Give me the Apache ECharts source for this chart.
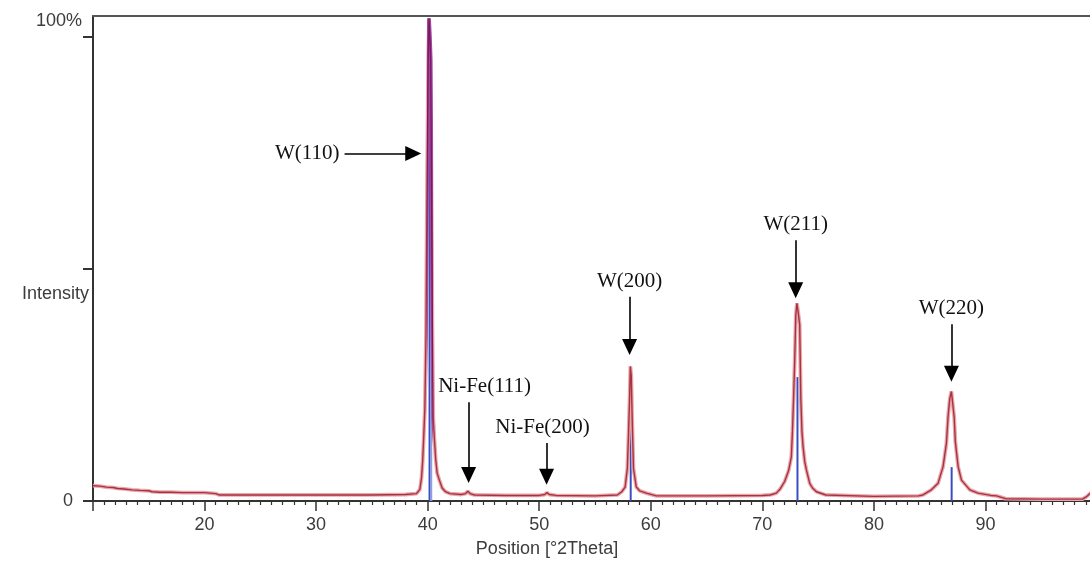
<!DOCTYPE html>
<html>
<head>
<meta charset="utf-8">
<title>XRD pattern</title>
<script src="https://cdn.jsdelivr.net/npm/echarts@6.0.0/dist/echarts.min.js"></script>
<style>
  html, body { margin: 0; padding: 0; background: #fff; }
  #chart { width: 1090px; height: 564px; }
</style>
</head>
<body>
<div id="chart"></div>
<script>
const twoTheta = [
  10.0, 10.6, 11.2, 11.8, 12.2, 12.8, 13.5, 14.2, 15.0, 15.3, 16.0, 17.0, 18.0, 19.0, 20.0,
  21.0, 21.1, 21.3, 22.0, 25.0, 30.0, 35.0, 38.0, 39.0, 39.3, 39.45, 39.55, 39.65, 39.75,
  39.85, 39.95, 40.05, 40.12, 40.2, 40.27, 40.34, 40.42, 40.5, 40.6, 40.72, 40.85, 41.05,
  41.3, 41.6, 42.0, 43.0, 43.4, 43.6, 43.8, 44.2, 47.0, 50.0, 50.5, 50.7, 50.9, 51.5, 55.0,
  57.0, 57.4, 57.7, 57.9, 58.0, 58.1, 58.17, 58.25, 58.33, 58.45, 58.7, 59.0, 59.6, 60.5,
  65.0, 70.0, 70.7, 71.25, 71.6, 72.0, 72.35, 72.6, 72.7, 72.8, 72.9, 73.0, 73.1, 73.25,
  73.35, 73.45, 73.55, 73.65, 73.8, 73.95, 74.25, 74.5, 74.85, 75.7, 80.0, 84.0, 84.4,
  85.15, 85.75, 86.2, 86.5, 86.65, 86.8, 86.95, 87.1, 87.2, 87.3, 87.55, 87.85, 88.6,
  89.33, 90.5, 91.0, 91.8, 95.0, 98.7, 99.1, 99.5
];
const intensity = [
  3.3, 3.2, 3.0, 2.9, 2.7, 2.6, 2.4, 2.3, 2.2, 2.0, 1.9, 1.9, 1.8, 1.8, 1.8,
  1.6, 1.8, 1.3, 1.3, 1.3, 1.3, 1.3, 1.4, 1.6, 2.5, 5, 8.5, 14, 20,
  36, 70, 96, 104, 100, 95, 70, 38, 18, 13.5, 9, 6, 4.5,
  2.8, 2.0, 1.6, 1.4, 1.6, 2.1, 1.6, 1.3, 1.2, 1.2, 1.4, 1.8, 1.4, 1.2, 1.1,
  1.3, 2.0, 3.0, 7, 14, 22, 29, 27, 18, 7, 3, 2.2, 1.7, 1.1,
  1.1, 1.2, 1.3, 1.7, 2.6, 4.2, 6.5, 9.5, 15, 22, 30, 40, 42.6, 40,
  38, 22, 15, 11.7, 8.5, 6.7, 3.8, 2.8, 2.0, 1.3, 1.0, 1.1, 1.3,
  2.4, 3.8, 7.4, 12.4, 18.2, 22, 23.6, 23.6, 18, 12.8, 7.4, 4.5, 2.4,
  1.7, 1.2, 1.1, 0.5, 0.4, 0.4, 1.0, 1.9
];

// reference pattern sticks
const stickPos = [40.17, 58.2, 73.15, 86.97];
const stickHeight = [100, 16.4, 26.7, 7.3];
const alpha2Pos = [40.32];
const alpha2Height = [37.5];

// peak annotations (arrow start / end in data units)
const peakNames = ['W(110)', 'Ni-Fe(111)', 'Ni-Fe(200)', 'W(200)', 'W(211)', 'W(220)'];
const arrowFrom = [[32.55, 74.9], [43.67, 21.3], [50.66, 12.5], [58.1, 44.0], [72.99, 56.2], [86.95, 38.1]];
const arrowTo = [[38.71, 74.9], [43.67, 5.6], [50.66, 5.2], [58.1, 33.2], [72.99, 45.4], [86.95, 27.4]];

const curve = twoTheta.map((t, i) => [t, intensity[i]]);
const sticks = stickPos.map((p, i) => [p, stickHeight[i]])
  .concat(alpha2Pos.map((p, i) => ({ value: [p, alpha2Height[i]], itemStyle: { color: '#8e9de2' } })));
// the Ni-Fe labels sit a little off their arrows in the original
const labelShift = { 'Ni-Fe(111)': [16, 0], 'Ni-Fe(200)': [-4, 0] };
const arrows = peakNames.map((n, i) => [
  { name: n, coord: arrowFrom[i], label: labelShift[n] ? { offset: labelShift[n] } : {} },
  { coord: arrowTo[i] }
]);

const sans = 'Liberation Sans, Arial, sans-serif';
const textGrey = '#3c3c3c';
const fs = 18;

const chart = echarts.init(document.getElementById('chart'));
chart.setOption({
  animation: false,
  backgroundColor: '#fff',
  grid: { left: 93, right: -7, top: 16, bottom: 63, containLabel: false, outerBoundsMode: 'none' },
  xAxis: [
    {
      type: 'value',
      min: 10,
      max: 100,
      interval: 10,
      position: 'bottom',
      name: 'Position [°2Theta]',
      nameLocation: 'middle',
      nameGap: 39,
      nameTextStyle: { fontFamily: sans, fontSize: fs, color: textGrey, padding: [0, 96, 0, 0] },
      axisLine: { show: true, lineStyle: { color: '#333', width: 2 } },
      axisTick: { show: true, length: 10, lineStyle: { color: '#333', width: 1.5 } },
      minorTick: { show: true, splitNumber: 10, length: 4, lineStyle: { color: '#333', width: 1.2 } },
      axisLabel: { showMinLabel: false, showMaxLabel: false, margin: 15, fontFamily: sans, fontSize: fs, color: textGrey },
      splitLine: { show: false }
    },
    {
      type: 'value',
      min: 10,
      max: 100,
      position: 'top',
      axisLine: { show: true, lineStyle: { color: '#555', width: 2 } },
      axisTick: { show: false },
      axisLabel: { show: false },
      splitLine: { show: false }
    }
  ],
  yAxis: {
    type: 'value',
    min: 0,
    max: 104.5,
    name: '{n|Intensity}',
    nameLocation: 'middle',
    nameRotate: 0,
    nameGap: 4,
    nameMoveOverlap: false,
    nameTextStyle: {
      fontFamily: sans, fontSize: fs, color: textGrey,
      align: 'right', verticalAlign: 'middle',
      rich: { n: { fontFamily: sans, fontSize: fs, color: textGrey, padding: [71, 0, 0, 0] } }
    },
    axisLine: { show: true, lineStyle: { color: '#333', width: 2 } },
    axisTick: { show: true, length: 10, customValues: [0, 50, 100], lineStyle: { color: '#333', width: 2 } },
    axisLabel: {
      customValues: [0, 100],
      margin: 11,
      fontFamily: sans,
      fontSize: fs,
      color: textGrey,
      formatter: v => (v === 100 ? '{top|100%}' : '{zero|0}'),
      rich: {
        top: { fontFamily: sans, fontSize: fs, color: textGrey, padding: [0, 0, 32, 0] },
        zero: { fontFamily: sans, fontSize: fs, color: textGrey, padding: [0, 9, 0, 0] }
      }
    },
    splitLine: { show: false }
  },
  visualMap: [
    {
      type: 'piecewise', show: false, seriesIndex: 0, dimension: 0,
      pieces: [{ gt: 39.9, lt: 40.45, color: '#a2499a' }],
      outOfRange: { color: '#e8a7ad' }
    },
    {
      type: 'piecewise', show: false, seriesIndex: 1, dimension: 0,
      pieces: [{ gt: 39.9, lt: 40.45, color: '#7c1868' }],
      outOfRange: { color: '#a8323f' }
    }
  ],
  series: [
    {
      name: 'profile halo',
      type: 'line',
      data: curve,
      showSymbol: false,
      z: 3,
      lineStyle: { width: 3.8 }
    },
    {
      name: 'profile',
      type: 'line',
      data: curve,
      showSymbol: false,
      z: 4,
      lineStyle: { width: 1.4 }
    },
    {
      name: 'reference',
      type: 'bar',
      data: sticks,
      barWidth: 2,
      z: 2,
      itemStyle: { color: '#3a4ec4' },
      markLine: {
        silent: true,
        symbol: ['none', 'triangle'],
        symbolSize: [15, 16],
        lineStyle: { color: '#000', width: 1.6, type: 'solid' },
        itemStyle: { color: '#000' },
        label: {
          show: true,
          position: 'start',
          distance: 5,
          formatter: '{b}',
          fontFamily: 'Liberation Serif, Times New Roman, serif',
          fontSize: 21,
          color: '#111'
        },
        emphasis: { disabled: true },
        data: arrows
      }
    }
  ]
});
</script>
</body>
</html>
